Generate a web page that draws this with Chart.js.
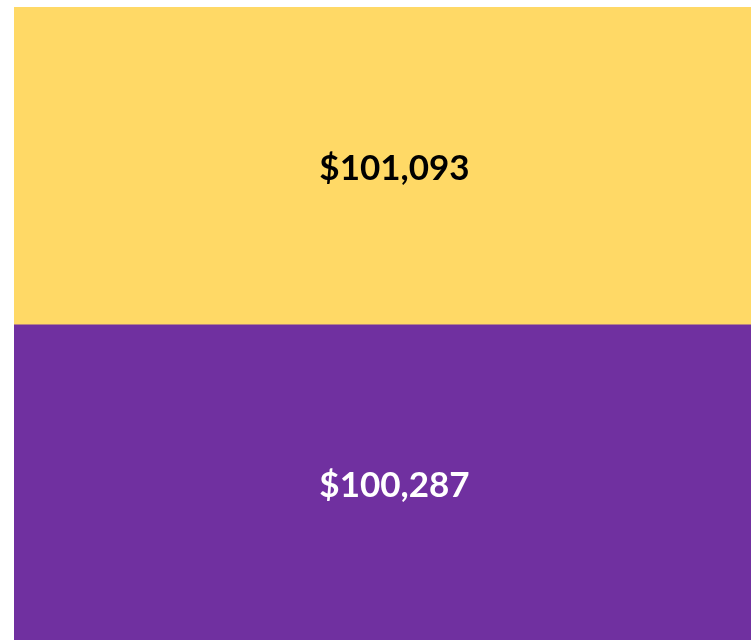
<!DOCTYPE html>
<html>
<head>
<meta charset="utf-8">
<script src="https://cdn.jsdelivr.net/npm/chart.js@4"></script>
<style>
html,body{margin:0;padding:0;background:#fff;overflow:hidden;}
#wrap{width:775px;height:640px;position:relative;}
</style>
</head>
<body>
<div id="wrap"><canvas id="c"></canvas></div>
<script>
const categories = [""];
const seriesNames = ["Bottom", "Top"];
const bottomValues = [100287];
const topValues = [101093];
const valueLabels = ["$100,287", "$101,093"];

const labelPlugin = {
  id: 'segLabels',
  afterDatasetsDraw(chart) {
    const ctx = chart.ctx;
    ctx.save();
    ctx.font = 'bold 35px Lato, "Open Sans", sans-serif';
    ctx.textAlign = 'center';
    ctx.textBaseline = 'middle';
    chart.data.datasets.forEach((ds, i) => {
      const meta = chart.getDatasetMeta(i);
      meta.data.forEach((bar) => {
        const props = bar.getProps(['x', 'y', 'base'], true);
        const cy = (props.y + props.base) / 2 + 3;
        ctx.fillStyle = ds.labelColor;
        ctx.fillText(valueLabels[i], props.x, cy);
      });
    });
    ctx.restore();
  }
};

new Chart(document.getElementById('c'), {
  type: 'bar',
  data: {
    labels: categories,
    datasets: [
      { label: seriesNames[0], data: bottomValues, backgroundColor: '#7030A0', labelColor: '#FFFFFF', borderWidth: 0 },
      { label: seriesNames[1], data: topValues, backgroundColor: '#FFD966', labelColor: '#000000', borderWidth: 0 }
    ]
  },
  options: {
    responsive: true,
    maintainAspectRatio: false,
    animation: false,
    layout: { padding: { left: 14, top: 7, right: 0, bottom: 0 } },
    datasets: { bar: { barPercentage: 1, categoryPercentage: 1 } },
    plugins: { legend: { display: false }, tooltip: { enabled: false } },
    scales: {
      x: { stacked: true, display: false },
      y: { stacked: true, display: false, min: 0, max: bottomValues[0] + topValues[0] }
    }
  },
  plugins: [labelPlugin]
});
</script>
</body>
</html>
